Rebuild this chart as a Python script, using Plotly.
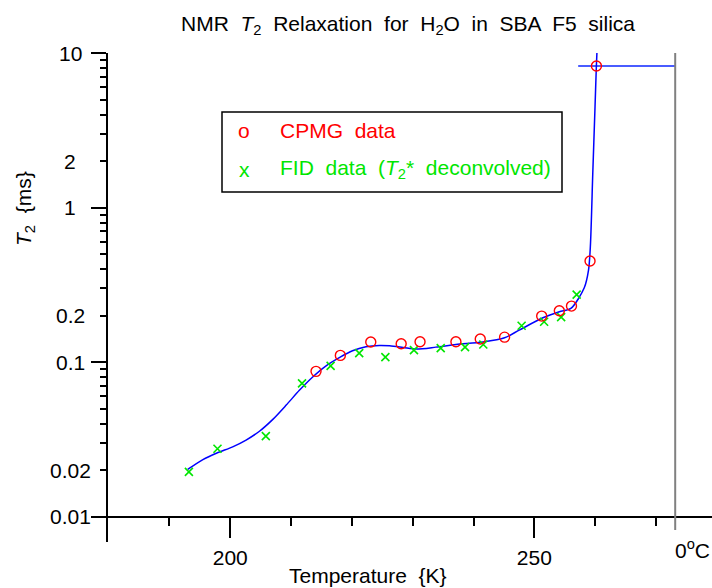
import math
import plotly.graph_objects as go

# ---------------- data ----------------
cpmg_T = [214.1, 218.1, 223.1, 228.1, 231.2, 237.1, 241.1, 245.1, 251.2, 254.1, 256.1, 259.15, 260.2]
cpmg_T2 = [0.0871, 0.1105, 0.135, 0.1313, 0.1353, 0.1353, 0.141, 0.145, 0.1985, 0.2148, 0.2304, 0.451, 8.24]

fid_T = [193.2, 197.9, 205.85, 211.8, 216.5, 221.2, 225.5, 230.2, 234.6, 238.6, 241.6, 247.9, 251.6, 254.4, 256.95]
fid_T2 = [0.0195, 0.0275, 0.0332, 0.0728, 0.0946, 0.1143, 0.1077, 0.1196, 0.1232, 0.125, 0.130, 0.172, 0.1824, 0.1955, 0.273]

fit_T = [193.0, 195.5, 197.9, 200.4, 202.6, 204.8, 207.0, 209.2, 211.4, 213.6, 215.7, 218.0, 220.1,
         222.3, 224.5, 226.2, 228.4, 230.6, 233.8, 237.1, 241.5, 245.1, 247.5, 251.4, 254.1, 256.0,
         258.2, 258.9, 259.2, 259.6, 259.97, 260.19, 260.3]
fit_T2 = [0.0202, 0.0234, 0.0259, 0.0283, 0.0313, 0.0357, 0.0426, 0.0527, 0.0659, 0.0804, 0.0942, 0.1072,
          0.1183, 0.1256, 0.1282, 0.1275, 0.1245, 0.1214, 0.125, 0.130, 0.135, 0.1436, 0.161, 0.1935,
          0.2117, 0.2224, 0.303, 0.394, 0.557, 1.665, 4.49, 8.24, 10.45]

bulk_T = [257.2, 273.15]
bulk_T2 = [8.24, 8.24]

x_major = [200, 250]
x_minor = [190, 210, 220, 230, 240, 260, 270]
y_major = [0.01, 0.1, 1, 10]
y_minor = [0.02, 0.03, 0.04, 0.05, 0.06, 0.07, 0.08, 0.09,
           0.2, 0.3, 0.4, 0.5, 0.6, 0.7, 0.8, 0.9,
           2, 3, 4, 5, 6, 7, 8, 9]
y_labels = [10, 2, 1, 0.2, 0.1, 0.02, 0.01]
zero_C = 273.15

FONT = "Liberation Sans, Arial, Helvetica, sans-serif"
FS = 21
RED = "#ff0000"
GREEN = "#00e600"
BLUE = "#0000ff"

W, H = 712, 588
ML, MR, MT, MB = 108, 0, 53, 46
PW, PH = W - ML - MR, H - MT - MB
x_range = [179.9, 279.2]
y_range = [-2.164, 1.0]


def px_x(px):
    return (px - ML) / PW


def px_y(py):
    return (H - MB - py) / PH


fig = go.Figure()

fig.add_trace(go.Scatter(x=bulk_T, y=bulk_T2, mode="lines",
                         line=dict(color="#4a5cff", width=2), hoverinfo="skip"))
fig.add_trace(go.Scatter(x=fit_T, y=fit_T2, mode="lines",
                         line=dict(color=BLUE, width=1.5, shape="spline", smoothing=0.8)))
fig.add_trace(go.Scatter(x=fid_T, y=fid_T2, mode="markers",
                         marker=dict(symbol="x-thin-open", size=8, color=GREEN,
                                     line=dict(color=GREEN, width=1.6))))
fig.add_trace(go.Scatter(x=cpmg_T, y=cpmg_T2, mode="markers",
                         marker=dict(symbol="circle-open", size=10, color=RED,
                                     line=dict(color=RED, width=1.4))))

shapes = [
    dict(type="line", xref="x", yref="paper", x0=zero_C, x1=zero_C,
         y0=px_y(530), y1=1, line=dict(color="#808080", width=2)),
    dict(type="rect", xref="paper", yref="paper", x0=px_x(222), x1=px_x(562),
         y0=px_y(192), y1=px_y(112), line=dict(color="black", width=1.5)),
]

annotations = []
for v in y_labels:
    annotations.append(dict(xref="paper", yref="y", x=px_x(70), y=math.log10(v),
                            text=str(v), showarrow=False, xanchor="center", yanchor="middle",
                            font=dict(family=FONT, size=FS, color="black")))

annotations += [
    dict(xref="paper", yref="paper", x=px_x(408), y=px_y(25), showarrow=False,
         text="NMR  <i>T</i><sub>2</sub>  Relaxation  for  H<sub>2</sub>O  in  SBA  F5  silica",
         font=dict(family=FONT, size=FS, color="black"), xanchor="center", yanchor="middle"),
    dict(xref="paper", yref="paper", x=px_x(25), y=px_y(209), showarrow=False, textangle=-90,
         text="<i>T</i><sub>2</sub>  {ms}", font=dict(family=FONT, size=FS, color="black"),
         xanchor="center", yanchor="middle"),
    dict(xref="paper", yref="paper", x=px_x(368), y=px_y(575), showarrow=False,
         text="Temperature  {K}", font=dict(family=FONT, size=FS, color="black"),
         xanchor="center", yanchor="middle"),
    dict(xref="x", yref="paper", x=zero_C, y=px_y(549), showarrow=False,
         text="0<sup>o</sup>C", font=dict(family=FONT, size=FS, color="black"),
         xanchor="left", yanchor="middle", xshift=-2),
    dict(xref="paper", yref="paper", x=px_x(244), y=px_y(130), showarrow=False,
         text="o", font=dict(family=FONT, size=FS, color=RED), xanchor="center", yanchor="middle"),
    dict(xref="paper", yref="paper", x=px_x(278), y=px_y(130), showarrow=False,
         text="CPMG  data", font=dict(family=FONT, size=FS, color=RED), xanchor="left", yanchor="middle"),
    dict(xref="paper", yref="paper", x=px_x(244), y=px_y(169), showarrow=False,
         text="x", font=dict(family=FONT, size=FS, color=GREEN), xanchor="center", yanchor="middle"),
    dict(xref="paper", yref="paper", x=px_x(278), y=px_y(169), showarrow=False,
         text="FID  data  (<i>T</i><sub>2</sub>*  deconvolved)", font=dict(family=FONT, size=FS, color=GREEN),
         xanchor="left", yanchor="middle"),
]

fig.update_layout(
    width=W, height=H,
    margin=dict(l=ML, r=MR, t=MT, b=MB, pad=0),
    paper_bgcolor="white", plot_bgcolor="white",
    showlegend=False,
    font=dict(family=FONT, size=FS, color="black"),
    shapes=shapes,
    annotations=annotations,
    xaxis=dict(
        range=x_range, anchor="free",
        position=(-2 - y_range[0]) / (y_range[1] - y_range[0]),
        showline=True, linecolor="black", linewidth=2,
        showgrid=False, zeroline=False,
        tickmode="array", tickvals=x_major, ticks="outside", ticklen=20, tickwidth=2,
        tickcolor="black", tickfont=dict(family=FONT, size=FS, color="black"),
        ticklabelstandoff=2,
        minor=dict(tickmode="array", tickvals=x_minor, ticks="outside", ticklen=8,
                   tickwidth=1.5, tickcolor="black", showgrid=False),
    ),
    yaxis=dict(
        type="log", range=y_range,
        showline=True, linecolor="black", linewidth=2,
        showgrid=False, zeroline=False,
        tickmode="array", tickvals=y_major, ticks="outside", ticklen=15, tickwidth=2,
        tickcolor="black", showticklabels=False,
        minor=dict(tickmode="array", tickvals=y_minor, ticks="outside", ticklen=6,
                   tickwidth=1.5, tickcolor="black", showgrid=False),
    ),
)

fig.write_html("out.html", config={"displayModeBar": False},
               post_script="document.body.style.margin='0px';document.body.style.overflow='hidden';")
